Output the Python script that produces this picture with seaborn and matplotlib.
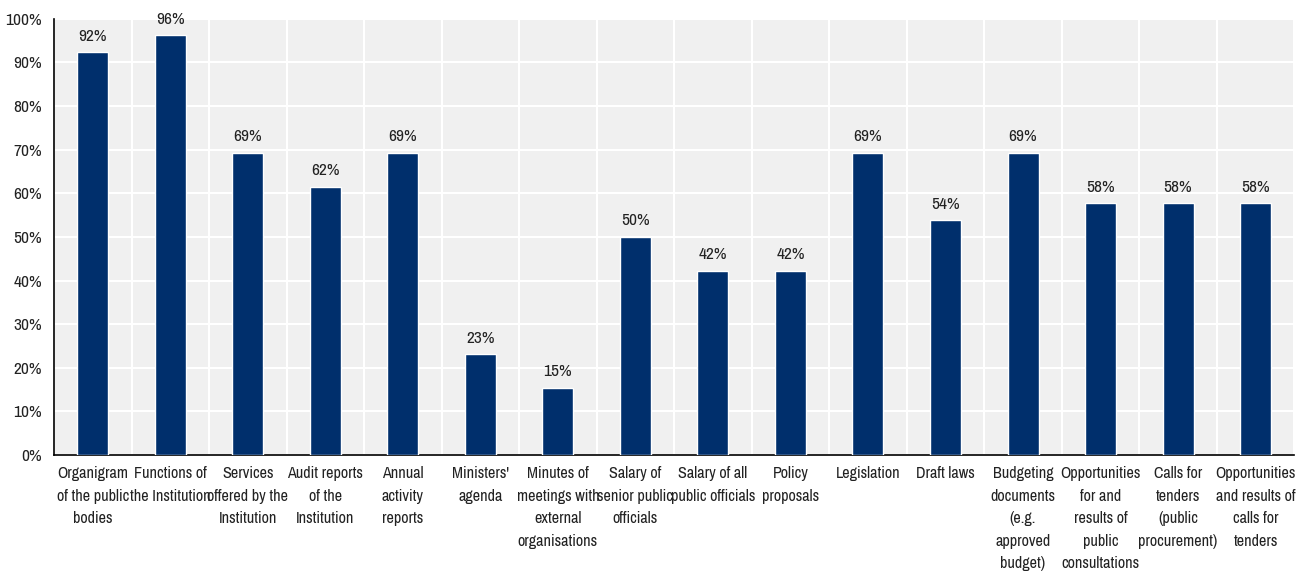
import matplotlib
matplotlib.use("Agg")
import matplotlib.pyplot as plt
import seaborn as sns
import pandas as pd
import numpy as np
from matplotlib.ticker import FixedLocator, PercentFormatter

categories = [
    "Organigram\nof the public\nbodies",
    "Functions of\nthe Institution",
    "Services\noffered by the\nInstitution",
    "Audit reports\nof the\nInstitution",
    "Annual\nactivity\nreports",
    "Ministers'\nagenda",
    "Minutes of\nmeetings with\nexternal\norganisations",
    "Salary of\nsenior public\nofficials",
    "Salary of all\npublic officials",
    "Policy\nproposals",
    "Legislation",
    "Draft laws",
    "Budgeting\ndocuments\n(e.g.\napproved\nbudget)",
    "Opportunities\nfor and\nresults of\npublic\nconsultations",
    "Calls for\ntenders\n(public\nprocurement)",
    "Opportunities\nand results of\ncalls for\ntenders",
]
values = [92.3, 96.2, 69.2, 61.5, 69.2, 23.1, 15.4, 50.0, 42.3, 42.3, 69.2, 53.8, 69.2, 57.7, 57.7, 57.7]

df = pd.DataFrame({"cat": categories, "val": values})

sns.set_theme(style="white")
plt.rcParams['font.family'] = ['Archivo Narrow', 'Liberation Sans', 'DejaVu Sans']

fig = plt.figure(figsize=(12.96, 5.71), dpi=100)
ax = fig.add_axes([0.0417, 0.203, 0.957, 0.764])
ax.set_facecolor("#F0F0F0")

sns.barplot(data=df, x="cat", y="val", color="#002F6C", saturation=1, width=0.4, ax=ax, zorder=3)

for i, v in enumerate(values):
    ax.text(i, v + 2.0, f"{round(v):d}%", ha="center", va="bottom", fontsize=12.5, color="#222222")

n = len(categories)
ax.set_xlim(-0.5, n - 0.5)
ax.set_ylim(0, 100)
ax.yaxis.set_major_locator(FixedLocator(np.arange(0, 101, 10)))
ax.yaxis.set_major_formatter(PercentFormatter(decimals=0))
ax.xaxis.set_minor_locator(FixedLocator(np.arange(-0.5, n, 1.0)))
ax.grid(True, axis="y", which="major", color="white", linewidth=1.5, zorder=0)
ax.grid(True, axis="x", which="minor", color="white", linewidth=1.5, zorder=0)
ax.grid(False, axis="x", which="major")
ax.set_axisbelow(True)

ax.tick_params(axis="x", which="major", length=0, labelsize=11.6, pad=8, colors="#222222")
ax.tick_params(axis="x", which="minor", length=5, width=1, color="black", direction="out")
ax.tick_params(axis="y", which="major", length=5, width=1, color="black", direction="out", labelsize=12.5, colors="#222222")
for lab in ax.get_xticklabels():
    lab.set_linespacing(1.62)
    lab.set_va("top")

for s in ["top", "right"]:
    ax.spines[s].set_visible(False)
for s in ["left", "bottom"]:
    ax.spines[s].set_color("black")
    ax.spines[s].set_linewidth(1.2)

ax.set_xlabel("")
ax.set_ylabel("")

fig.savefig("out.png", dpi=100)
